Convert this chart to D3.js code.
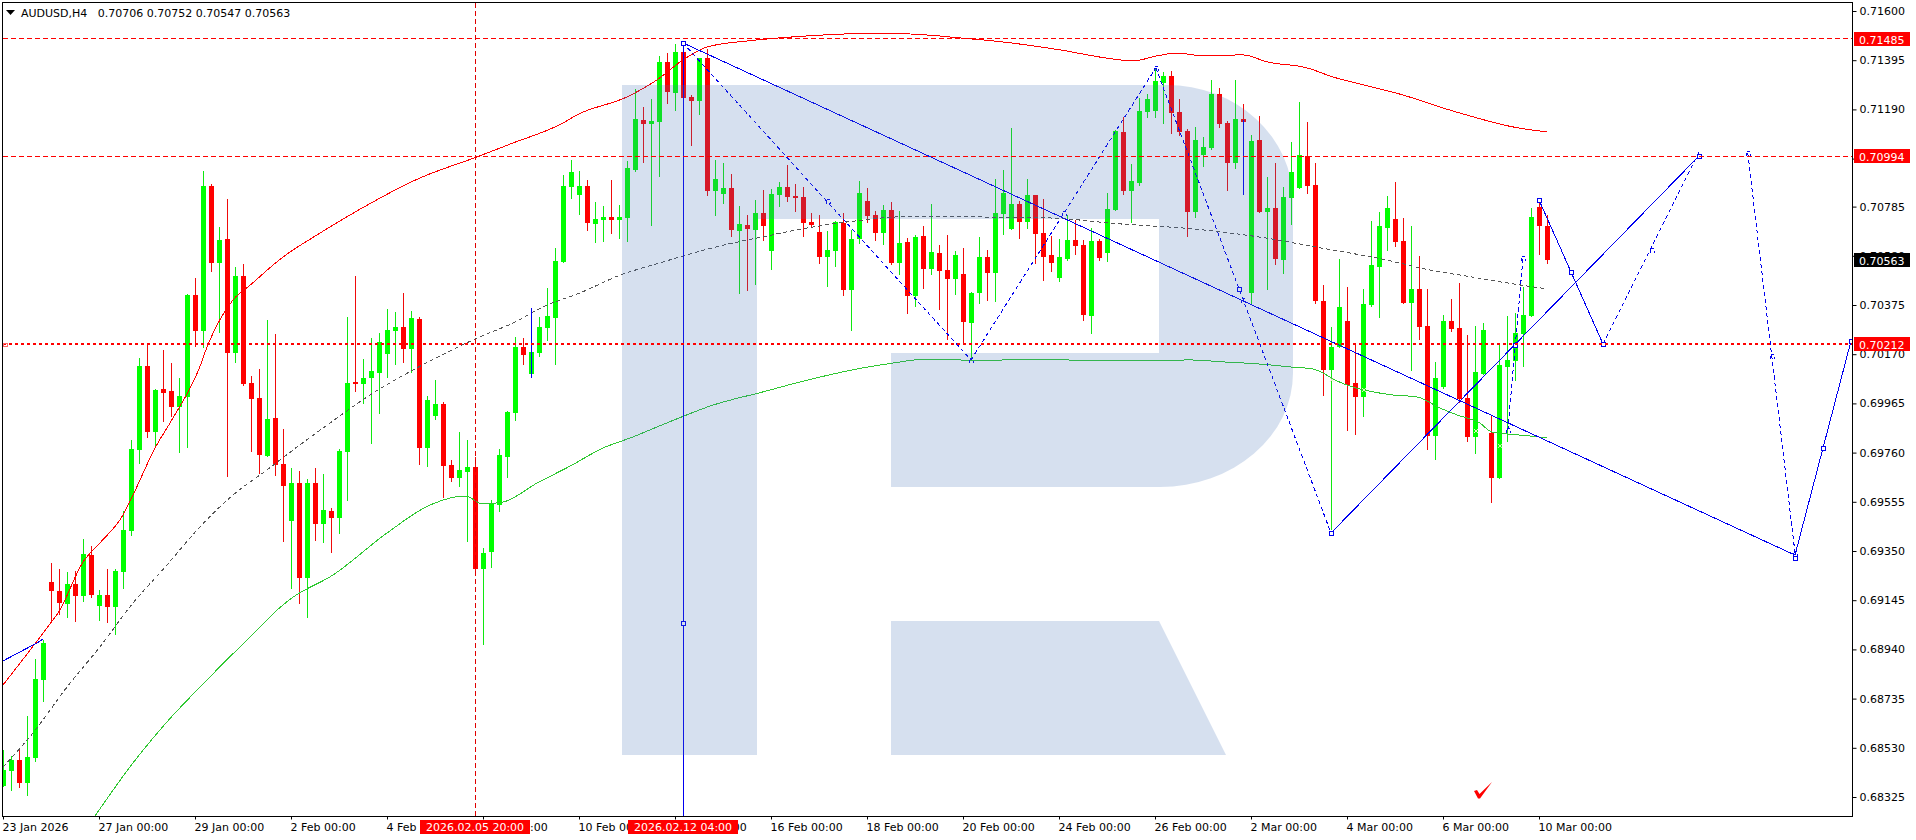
<!DOCTYPE html>
<html><head><meta charset="utf-8">
<script src="https://cdn.jsdelivr.net/npm/d3@7/dist/d3.min.js"></script>
<style>
html,body{margin:0;padding:0;background:#fff;overflow:hidden}
svg{display:block}
text{font-family:"DejaVu Sans",sans-serif;font-size:11px;fill:#000}
</style></head><body><svg id="c" width="1916" height="840"></svg>
<script>
const headerText = "AUDUSD,H4   0.70706 0.70752 0.70547 0.70563";
const opens = [0.68371,0.68433,0.68479,0.68383,0.68488,0.68813,0.69221,0.69183,0.69129,0.69213,
0.69163,0.69333,0.69121,0.69167,0.69117,0.69263,0.69433,0.69771,0.70121,0.69846,
0.70025,0.70017,0.69950,0.69992,0.70417,0.70267,0.70871,0.70550,0.70650,0.70175,
0.70496,0.70050,0.69988,0.69746,0.69904,0.69713,0.69475,0.69633,0.69238,0.69633,
0.69463,0.69517,0.69488,0.69763,0.70054,0.70046,0.70071,0.70092,0.70171,0.70267,
0.70283,0.70192,0.70317,0.69779,0.69913,0.69963,0.69708,0.69654,0.69679,0.69700,
0.69275,0.69346,0.69542,0.69742,0.69925,0.70200,0.70088,0.70175,0.70279,0.70321,
0.70554,0.70867,0.70833,0.70871,0.70713,0.70729,0.70742,0.70729,0.70738,0.70938,
0.71146,0.71129,0.71138,0.71388,0.71258,0.71429,0.71242,0.71225,0.71404,0.70850,
0.70838,0.70863,0.70683,0.70708,0.70688,0.70758,0.70600,0.70833,0.70867,0.70829,
0.70825,0.70721,0.70679,0.70575,0.70600,0.70717,0.70438,0.70650,0.70808,0.70750,
0.70675,0.70771,0.70550,0.70638,0.70413,0.70663,0.70525,0.70592,0.70521,0.70483,
0.70504,0.70300,0.70425,0.70575,0.70508,0.70754,0.70692,0.70796,0.70721,0.70833,
0.70675,0.70583,0.70488,0.70567,0.70646,0.70625,0.70329,0.70642,0.70592,0.70771,
0.71096,0.70850,0.70883,0.71179,0.71183,0.71300,0.71329,0.71179,0.71100,0.70763,
0.71000,0.71029,0.71254,0.71133,0.70967,0.71150,0.70425,0.71063,0.70763,0.70779,
0.70563,0.70821,0.70863,0.70996,0.70875,0.70392,0.70104,0.70200,0.70308,0.70050,
0.69992,0.70375,0.70533,0.70696,0.70733,0.70642,0.70383,0.70442,0.70288,0.69829,
0.70033,0.70308,0.70279,0.69988,0.69825,0.70088,0.69842,0.69654,0.70117,0.70142,
0.70254,0.70329,0.70783,0.70706];
const highs = [0.68521,0.68496,0.68529,0.68663,0.68900,0.68979,0.69300,0.69275,0.69263,0.69267,
0.69400,0.69371,0.69188,0.69275,0.69275,0.69517,0.69813,0.70154,0.70217,0.70025,
0.70188,0.70133,0.70071,0.70421,0.70488,0.70933,0.70879,0.70700,0.70817,0.70533,
0.70546,0.70079,0.70108,0.70313,0.70254,0.69858,0.69696,0.69683,0.69650,0.69696,
0.69671,0.69529,0.69775,0.70325,0.70496,0.70150,0.70238,0.70258,0.70358,0.70346,
0.70425,0.70350,0.70325,0.69996,0.70063,0.69971,0.69729,0.69846,0.69813,0.69742,
0.69363,0.69563,0.69775,0.69933,0.70242,0.70238,0.70208,0.70325,0.70446,0.70613,
0.70917,0.70979,0.70933,0.70896,0.70804,0.70788,0.70896,0.70792,0.70975,0.71275,
0.71200,0.71233,0.71413,0.71425,0.71463,0.71467,0.71250,0.71404,0.71442,0.70979,
0.70967,0.70921,0.70788,0.70750,0.70813,0.70854,0.70858,0.70888,0.70958,0.70879,
0.70867,0.70758,0.70750,0.70683,0.70725,0.70758,0.70688,0.70892,0.70863,0.70767,
0.70792,0.70804,0.70767,0.70654,0.70667,0.70704,0.70796,0.70625,0.70667,0.70600,
0.70613,0.70429,0.70658,0.70604,0.70900,0.70938,0.71113,0.70808,0.70900,0.70833,
0.70817,0.70663,0.70650,0.70750,0.70729,0.70646,0.70696,0.70650,0.70842,0.71104,
0.71158,0.70963,0.71238,0.71254,0.71363,0.71346,0.71350,0.71233,0.71108,0.71117,
0.71075,0.71313,0.71279,0.71142,0.71313,0.71213,0.71083,0.71163,0.70908,0.70967,
0.70867,0.71054,0.71221,0.71138,0.70967,0.70458,0.70283,0.70567,0.70450,0.70217,
0.70442,0.70725,0.70763,0.70829,0.70888,0.70738,0.70704,0.70579,0.70442,0.70138,
0.70333,0.70400,0.70467,0.70250,0.70288,0.70300,0.69913,0.70208,0.70329,0.70342,
0.70450,0.70779,0.70800,0.70752];
const lows = [0.68367,0.68350,0.68363,0.68329,0.68471,0.68721,0.69050,0.69083,0.69071,0.69054,
0.69138,0.69154,0.69058,0.69050,0.69000,0.69192,0.69413,0.69713,0.69821,0.69783,
0.69888,0.69908,0.69758,0.69779,0.70200,0.70196,0.70513,0.70258,0.69658,0.70133,
0.70038,0.69763,0.69671,0.69742,0.69663,0.69388,0.69192,0.69129,0.69071,0.69392,
0.69383,0.69342,0.69421,0.69558,0.70013,0.69963,0.69796,0.69921,0.70071,0.70125,
0.70133,0.70092,0.69708,0.69700,0.69896,0.69571,0.69638,0.69617,0.69388,0.69267,
0.68958,0.69279,0.69513,0.69654,0.69892,0.70125,0.70079,0.70158,0.70225,0.70125,
0.70550,0.70817,0.70750,0.70683,0.70633,0.70638,0.70671,0.70650,0.70638,0.70929,
0.70967,0.70704,0.70908,0.71213,0.71183,0.71230,0.71038,0.71167,0.70829,0.70746,
0.70796,0.70658,0.70421,0.70433,0.70458,0.70642,0.70521,0.70783,0.70804,0.70763,
0.70658,0.70700,0.70546,0.70450,0.70533,0.70413,0.70267,0.70629,0.70717,0.70642,
0.70625,0.70542,0.70500,0.70338,0.70367,0.70442,0.70500,0.70354,0.70229,0.70417,
0.70213,0.70146,0.70379,0.70392,0.70388,0.70667,0.70688,0.70650,0.70692,0.70546,
0.70475,0.70513,0.70471,0.70558,0.70583,0.70308,0.70254,0.70558,0.70554,0.70767,
0.70833,0.70717,0.70871,0.71154,0.71154,0.71129,0.71088,0.71079,0.70658,0.70738,
0.70950,0.71021,0.71113,0.70850,0.70942,0.71138,0.70375,0.70758,0.70438,0.70542,
0.70504,0.70708,0.70858,0.70838,0.70379,0.69996,0.69438,0.70196,0.69850,0.69833,
0.69908,0.70367,0.70321,0.70600,0.70617,0.70379,0.70100,0.70229,0.69771,0.69729,
0.70025,0.70263,0.69967,0.69804,0.69754,0.70083,0.69550,0.69650,0.69804,0.70058,
0.70117,0.70325,0.70583,0.70547];
const closes = [0.68438,0.68479,0.68383,0.68492,0.68817,0.68967,0.69183,0.69133,0.69213,0.69163,
0.69338,0.69167,0.69167,0.69117,0.69267,0.69438,0.69775,0.70121,0.69846,0.70021,
0.70008,0.69950,0.69996,0.70417,0.70267,0.70871,0.70550,0.70646,0.70175,0.70496,
0.70046,0.69983,0.69750,0.69900,0.69708,0.69621,0.69633,0.69238,0.69633,0.69463,
0.69521,0.69488,0.69767,0.70050,0.70046,0.70071,0.70100,0.70221,0.70271,0.70283,
0.70192,0.70321,0.69779,0.69979,0.69963,0.69704,0.69654,0.69688,0.69700,0.69275,
0.69342,0.69546,0.69750,0.69929,0.70200,0.70167,0.70179,0.70283,0.70329,0.70558,
0.70871,0.70929,0.70871,0.70717,0.70733,0.70742,0.70729,0.70742,0.70946,0.71150,
0.71129,0.71142,0.71388,0.71263,0.71429,0.71238,0.71225,0.71404,0.70850,0.70900,
0.70863,0.70688,0.70713,0.70692,0.70758,0.70704,0.70838,0.70867,0.70825,0.70821,
0.70717,0.70708,0.70575,0.70604,0.70721,0.70438,0.70650,0.70842,0.70746,0.70675,
0.70771,0.70550,0.70633,0.70413,0.70658,0.70525,0.70596,0.70517,0.70483,0.70583,
0.70304,0.70425,0.70575,0.70508,0.70758,0.70842,0.70796,0.70721,0.70833,0.70671,
0.70575,0.70550,0.70575,0.70646,0.70621,0.70333,0.70642,0.70571,0.70775,0.71100,
0.70850,0.70892,0.71183,0.71233,0.71308,0.71329,0.71175,0.71096,0.70763,0.71063,
0.71033,0.71254,0.71129,0.70967,0.71150,0.71138,0.71058,0.70763,0.70779,0.70567,
0.70825,0.70929,0.71000,0.70871,0.70392,0.70104,0.70200,0.70367,0.70042,0.69992,
0.70379,0.70542,0.70704,0.70779,0.70638,0.70383,0.70442,0.70283,0.69829,0.70071,
0.70308,0.70275,0.69983,0.69825,0.70096,0.70271,0.69654,0.70125,0.70146,0.70258,
0.70333,0.70742,0.70704,0.70563];

const maRedBars = [0,5,7.1,10,12.1,15,16.25,19,21.1,24.6,25.5,27.1,28.75,30.9,35,39.25,44.25,52.1,59.25,63.75,70,71.75,78,81.75,85,88,93,97.1,102.5,109.6,115.5,119.6,125,132.1,138.75,141.25,144.25,146.75,150,155,158,163,166.25,169.6,175,179.6,182.1,188.75,193];
const maRedVals = [0.68792,0.69008,0.69104,0.69304,0.69383,0.69500,0.69583,0.69779,0.69896,0.70117,0.70200,0.70313,0.70396,0.70458,0.70575,0.70667,0.70767,0.70904,0.70992,0.71050,0.71133,0.71167,0.71242,0.71313,0.71396,0.71450,0.71475,0.71488,0.71500,0.71508,0.71500,0.71488,0.71471,0.71438,0.71400,0.71392,0.71413,0.71425,0.71413,0.71417,0.71388,0.71363,0.71325,0.71296,0.71250,0.71200,0.71175,0.71117,0.71096];
const maGreenBars = [11.5,16.25,20.5,25.5,31.75,34.25,36.1,41.25,48,53.4,57.75,60,62.5,66.75,70.9,75,78.4,83.9,88.75,95,99.6,107.5,111.25,115.5,119.6,123.4,126.5,131.75,134.6,142.5,148.4,152.5,157.1,160.9,163.75,165,166.25,169.6,171.25,173.75,176.75,179.6,181.75,184.6,186.1,188,190.9,193];
const maGreenVals = [0.68246,0.68467,0.68638,0.68813,0.69021,0.69104,0.69154,0.69250,0.69425,0.69542,0.69579,0.69546,0.69554,0.69633,0.69704,0.69779,0.69821,0.69896,0.69958,0.70013,0.70054,0.70113,0.70133,0.70150,0.70146,0.70142,0.70150,0.70150,0.70142,0.70142,0.70146,0.70138,0.70129,0.70117,0.70108,0.70092,0.70067,0.70025,0.70013,0.70000,0.69992,0.69946,0.69917,0.69883,0.69846,0.69838,0.69829,0.69821];
const maGrayBars = [0,3.75,8,12.1,16.25,20.5,24.6,28.75,33,37.1,41.25,45.5,51.75,59.6,63.75,67.5,72.1,77.5,81.25,85,89.6,94.25,101.25,107.5,112.1,119.6,130.5,139.6,148.75,157.1,165.5,171.75,179.6,182.1,188,193];
const maGrayVals = [0.68450,0.68592,0.68783,0.68950,0.69133,0.69292,0.69450,0.69583,0.69688,0.69792,0.69892,0.69992,0.70113,0.70242,0.70300,0.70367,0.70425,0.70504,0.70542,0.70579,0.70621,0.70654,0.70700,0.70729,0.70742,0.70742,0.70738,0.70713,0.70692,0.70658,0.70608,0.70571,0.70513,0.70500,0.70467,0.70442];

const levels = [0.71485,0.70994,0.70212];
const priceTicks = [0.716,0.71395,0.7119,0.70985,0.70785,0.7058,0.70375,0.7017,0.69965,0.6976,0.69555,0.6935,0.69145,0.6894,0.68735,0.6853,0.68325];
const timeTickBars = [0,12,24,36,48,60,72,84,96,108,120,132,144,156,168,180,192];
const timeTickLabels = ["23 Jan 2026","27 Jan 00:00","29 Jan 00:00","2 Feb 00:00","4 Feb 00:00","6 Feb 00:00","10 Feb 00:00","12 Feb 00:00","16 Feb 00:00","18 Feb 00:00","20 Feb 00:00","24 Feb 00:00","26 Feb 00:00","2 Mar 00:00","4 Mar 00:00","6 Mar 00:00","10 Mar 00:00"];
const crossBar = 59;   const crossLabel = "2026.02.05 20:00";
const waveBar = 85;    const waveLabel = "2026.02.12 04:00";

const solidWaves = [
 [[0,0.68892],[4.25,0.68967],[5,0.68983]],
 [[66,0.70363],[66,0.70071]],
 [[155,0.71146],[155,0.70833]],
 [[85,0.71467],[85,0.68246]],
 [[85,0.71467],[224,0.69333]],
 [[224,0.69333],[231,0.70225]],
 [[166,0.69425],[212,0.70996]],
 [[192,0.70813],[196,0.70513],[200,0.70213]]
];
const dashedWaves = [
 [[85,0.71467],[121,0.70146]],
 [[121,0.70146],[144.1,0.71363]],
 [[144.1,0.71363],[166,0.69425]],
 [[188.1,0.69854],[190,0.70571]],
 [[200,0.70213],[212,0.71013]],
 [[218.1,0.71008],[224,0.69342]]
];
const solidNodes = [[85,0.71467],[85,0.69050],[154.5,0.70442],[224,0.69321],[166,0.69425],[189,0.70208],[212,0.70996],[192,0.70813],[196,0.70513],[200,0.70213],[227.5,0.69779],[231,0.70225]];
const dashedNodes = [[103.1,0.70808],[121,0.70146],[132.6,0.70758],[144.1,0.71363],[155,0.70396],[188.1,0.69854],[190,0.70571],[206.1,0.70604],[218.1,0.71008],[221.1,0.70163],[224,0.69342]];
const paleMarks = [[166,0.70063],[170,0.70021],[184,0.69850],[187,0.69788]];

const L=2.5,T=2.5,R=1852.5,B=816.5;
const x = d3.scaleLinear().domain([0,193]).range([3,1547]);
const y = d3.scaleLinear().domain([0.68325,0.716]).range([797,11]);
const svg = d3.select("#c");
svg.append("defs").append("clipPath").attr("id","plot").append("rect").attr("x",3).attr("y",3).attr("width",1849).attr("height",813);
const plot = svg.append("g").attr("clip-path","url(#plot)");

const bars = d3.range(opens.length).map(i=>({i,o:opens[i],h:highs[i],l:lows[i],c:closes[i],up:closes[i]>=opens[i]}));
const gC = plot.append("g").attr("shape-rendering","crispEdges");
gC.selectAll("line").data(bars).join("line")
  .attr("x1",d=>x(d.i)+.5).attr("x2",d=>x(d.i)+.5)
  .attr("y1",d=>y(d.h)).attr("y2",d=>y(d.l))
  .attr("stroke",d=>d.up?"#10e810":"#f00a0a").attr("stroke-width",1);
gC.selectAll("rect").data(bars).join("rect")
  .attr("x",d=>x(d.i)-2).attr("width",5)
  .attr("y",d=>y(Math.max(d.o,d.c)))
  .attr("height",d=>Math.max(1,y(Math.min(d.o,d.c))-y(Math.max(d.o,d.c))))
  .attr("fill",d=>d.up?"#00ff00":"#ff0000");

const straight = d3.line().x(d=>x(d[0])).y(d=>y(d[1]));
const smooth = d3.line().x(d=>x(d[0])).y(d=>y(d[1])).curve(d3.curveMonotoneX);
const zip=(a,b)=>a.map((v,i)=>[v,b[i]]);
const gM = plot.append("g").attr("fill","none").attr("shape-rendering","crispEdges");
gM.append("path").datum(zip(maRedBars,maRedVals)).attr("d",smooth).attr("stroke","#f00").attr("stroke-width",1);
gM.append("path").datum(zip(maGreenBars,maGreenVals)).attr("d",smooth).attr("stroke","#2fc832").attr("stroke-width",1);
gM.append("path").datum(zip(maGrayBars,maGrayVals)).attr("d",smooth).attr("stroke","#555").attr("stroke-width",1).attr("stroke-dasharray","4 3");

plot.selectAll("path.pale").data(paleMarks).join("path").attr("class","pale")
  .attr("d",d=>`M${x(d[0])-1},${y(d[1])-2}l4,4m0,-4l-4,4`).attr("stroke","#e8f5c8").attr("stroke-width",1);

const gW = plot.append("g");
gW.selectAll("path.s").data(solidWaves).join("path").attr("class","s").attr("d",straight).attr("fill","none").attr("stroke","#0000f0").attr("stroke-width",1).attr("shape-rendering","crispEdges");
gW.selectAll("path.d").data(dashedWaves).join("path").attr("class","d").attr("d",straight).attr("fill","none").attr("stroke","#0000f0").attr("stroke-width",1).attr("stroke-dasharray","4 3").attr("shape-rendering","crispEdges");
gW.selectAll("rect.dn").data(dashedNodes).join("rect").attr("class","dn")
  .attr("x",d=>Math.round(x(d[0]))-2+.5).attr("y",d=>Math.round(y(d[1]))-2+.5).attr("width",4).attr("height",4)
  .attr("fill","none").attr("stroke","#0000f0").attr("stroke-dasharray","3 3").attr("shape-rendering","crispEdges");
gW.selectAll("rect.sn").data(solidNodes).join("rect").attr("class","sn")
  .attr("x",d=>Math.round(x(d[0]))-2+.5).attr("y",d=>Math.round(y(d[1]))-2+.5).attr("width",4).attr("height",4)
  .attr("fill","#fff").attr("stroke","#0000f0").attr("shape-rendering","crispEdges");

const logo = plot.append("g").attr("fill","#4472b6").attr("fill-opacity",.22);
logo.append("path").attr("d","M622,85H1167A126,116 0 0 1 1293,201V373A133,114 0 0 1 1160,487H891V353H1159V219H757V755H622Z");
logo.append("path").attr("d","M891,621H1159L1226,755H891Z");

const gL = plot.append("g").attr("shape-rendering","crispEdges");
gL.selectAll("line").data(levels).join("line")
  .attr("x1",3).attr("x2",1852)
  .attr("y1",d=>Math.floor(y(d))+.5-(d===levels[2]?.5:0)).attr("y2",d=>Math.floor(y(d))+.5-(d===levels[2]?.5:0))
  .attr("stroke","#f00").attr("stroke-width",(d,i)=>i===2?2:1).attr("stroke-dasharray",(d,i)=>i===2?"3 3":"5 3");
gL.append("line").attr("x1",x(crossBar)+.5).attr("x2",x(crossBar)+.5).attr("y1",3).attr("y2",816)
  .attr("stroke","#e00000").attr("stroke-dasharray","5 3");
gL.append("rect").attr("x",3.5).attr("y",343.5).attr("width",4).attr("height",3).attr("fill","none").attr("stroke","#f66");

svg.append("path").attr("d","M1474,791L1477,790L1479.5,794L1492,782L1480,798.5L1478,798.5Z").attr("fill","#f00");

svg.append("rect").attr("x",L).attr("y",T).attr("width",R-L).attr("height",B-T).attr("fill","none").attr("stroke","#000").attr("shape-rendering","crispEdges");

const axR = d3.axisRight(y).tickValues(priceTicks).tickFormat(d3.format(".5f")).tickSize(4).tickPadding(3);
const gR = svg.append("g").attr("transform",`translate(${R},0)`).call(axR);
gR.select(".domain").remove();
gR.selectAll("text").style("font-family",'"DejaVu Sans"').style("font-size","11px").attr("fill","#000");
const axB = d3.axisBottom(x).tickValues(timeTickBars).tickFormat((d,i)=>timeTickLabels[i]).tickSize(3).tickPadding(4);
const gB = svg.append("g").attr("transform",`translate(0,${B})`).call(axB);
gB.select(".domain").remove();
gB.selectAll("text").attr("text-anchor","start").attr("dx","-1").style("font-family",'"DejaVu Sans"').style("font-size","11px").attr("fill","#000");

const tagValues=[[levels[0],"#f00"],[levels[1],"#f00"],[closes[closes.length-1],"#000"],[levels[2],"#f00"]];
const f5=d3.format(".5f");
tagValues.forEach(t=>{
  const yy=Math.round(y(t[0]));
  svg.append("rect").attr("x",1854).attr("y",yy-7).attr("width",56).attr("height",14).attr("fill",t[1]);
  svg.append("text").attr("x",1859).attr("y",yy+4.5).style("fill","#fff").text(f5(t[0]));
});
[[crossBar,crossLabel],[waveBar,waveLabel]].forEach(t=>{
  const xx=x(t[0]);
  svg.append("rect").attr("x",xx-55).attr("y",820).attr("width",110).attr("height",14).attr("fill","#f00");
  svg.append("text").attr("x",xx).attr("y",831).attr("text-anchor","middle").style("fill","#fff").text(t[1]);
});

svg.append("path").attr("d","M6,10H15L10.5,15Z").attr("fill","#000");
svg.append("text").attr("x",21).attr("y",16.5).attr("xml:space","preserve").style("white-space","pre").text(headerText);
</script></body></html>
